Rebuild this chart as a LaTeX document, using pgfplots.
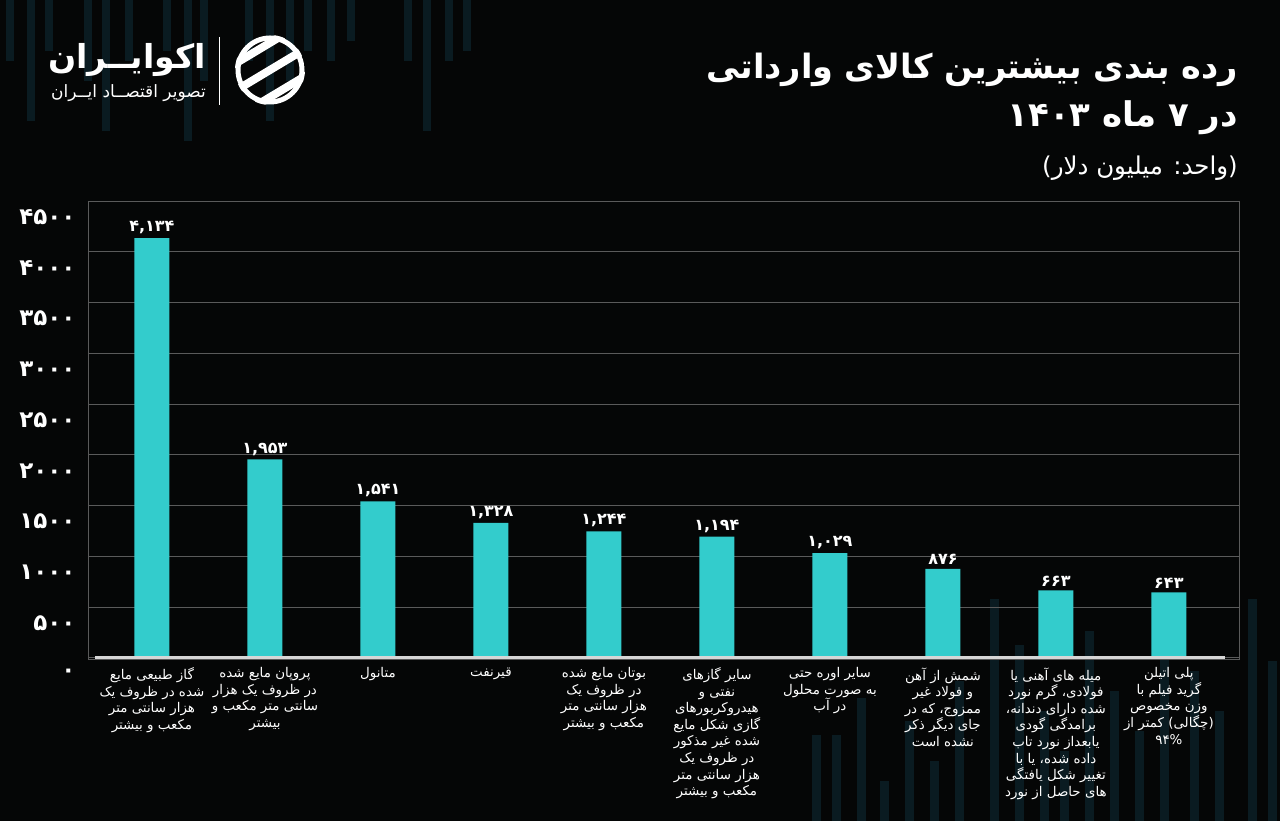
\documentclass[border=0pt]{standalone}
\usepackage{fontspec}
\usepackage{pgfplots}
\usepackage{pgfplotstable}
\pgfplotsset{compat=1.18}
\TeXXeTstate=1
\setmainfont{DejaVu Sans}[Script=Arabic]
\newcommand{\R}[1]{\beginR #1\endR}
\newcommand{\xlfont}{\fontsize{13.4}{16.6}\selectfont\setlength{\lineskiplimit}{-20pt}\setlength{\lineskip}{0pt}}
\definecolor{bg}{HTML}{050606}
\definecolor{barc}{HTML}{33CCCC}
\definecolor{gridc}{HTML}{5A5A5A}
\definecolor{deco}{HTML}{0A1B21}
\definecolor{basec}{HTML}{D6D6D6}

\pgfplotstableread{
x y lab
0 4134 ۴,۱۳۴
1 1953 ۱,۹۵۳
2 1541 ۱,۵۴۱
3 1328 ۱,۳۲۸
4 1244 ۱,۲۴۴
5 1194 ۱,۱۹۴
6 1029 ۱,۰۲۹
7 876 ۸۷۶
8 663 ۶۶۳
9 643 ۶۴۳
}\datatable

\begin{document}
\begin{tikzpicture}[x=1pt,y=1pt]
\fill[bg] (0,0) rectangle (1280,821);
% faint decorative background stripes
\foreach \xa/\ya in {6/760, 27/700, 45/770, 84/740, 102/690, 125/760, 163/770, 184/680, 200/740, 245/760, 266/700, 286/740, 304/770, 327/760, 347/780, 404/760, 423/690, 445/760, 463/770}{
  \fill[deco] (\xa,\ya) rectangle ({\xa+8},821);
}
\foreach \xa/\ya in {812/86, 832/86, 857/123, 880/40, 905/100, 930/60, 955/140, 990/222, 1015/176, 1040/110, 1060/70, 1085/190, 1110/130, 1135/90, 1160/200, 1190/150, 1215/110, 1248/222, 1268/160}{
  \fill[deco] (\xa,0) rectangle ({\xa+9},\ya);
}
\begin{axis}[
  at={(88pt,162pt)}, anchor=south west,
  scale only axis, width=1151pt, height=458pt,
  xmin=-0.566, xmax=9.62, ymin=-13, ymax=4500,
  axis line style={gridc, line width=0.8pt},
  ymajorgrids, grid style={gridc, line width=0.8pt},
  major tick length=0pt,
  ytick={0,500,...,4500},
  yticklabels={۰,۵۰۰,۱۰۰۰,۱۵۰۰,۲۰۰۰,۲۵۰۰,۳۰۰۰,۳۵۰۰,۴۰۰۰,۴۵۰۰},
  yticklabel style={font=\bfseries\fontsize{23}{26}\selectfont, text=white, yshift=-16pt, xshift=-9pt},
  xtick={0,...,9},
  xticklabels={
    {\R{گاز طبیعی مایع}\\\R{شده در ظروف یک}\\\R{هزار سانتی متر}\\\R{مکعب و بیشتر}},
    {\R{پروپان مایع شده}\\\R{در ظروف یک هزار}\\\R{سانتی متر مکعب و}\\\R{بیشتر}},
    {\R{متانول}},
    {\R{قیرنفت}},
    {\R{بوتان مایع شده}\\\R{در ظروف یک}\\\R{هزار سانتی متر}\\\R{مکعب و بیشتر}},
    {\R{سایر گازهای}\\\R{نفتی و}\\\R{هیدروکربورهای}\\\R{گازی شکل مایع}\\\R{شده غیر مذکور}\\\R{در ظروف یک}\\\R{هزار سانتی متر}\\\R{مکعب و بیشتر}},
    {\R{سایر اوره حتی}\\\R{به صورت محلول}\\\R{در آب}},
    {\R{شمش از آهن}\\\R{و فولاد غیر}\\\R{ممزوج، که در}\\\R{جای دیگر ذکر}\\\R{نشده است}},
    {\R{میله های آهنی یا}\\\R{فولادی، گرم نورد}\\\R{شده دارای دندانه،}\\\R{برامدگی گودی}\\\R{یابعداز نورد تاب}\\\R{داده شده، یا با}\\\R{تغییر شکل یافتگی}\\\R{های حاصل از نورد}},
    {\R{پلی اتیلن}\\\R{گرید فیلم با}\\\R{وزن مخصوص}\\\R{(چگالی) کمتر از}\\\R{۹۴\%}}
  },
  xticklabel style={font=\xlfont, text=white, align=center, anchor=north, yshift=-5pt},
]
\addplot[ybar, bar width=35pt, fill=barc, draw=none,
  nodes near coords, point meta=explicit symbolic,
  nodes near coords style={font=\bfseries\fontsize{16}{18}\selectfont, text=white, anchor=south, inner sep=4pt}]
  table[x=x,y=y,meta=lab]{\datatable};
\addplot[basec, line width=3.2pt, forget plot] coordinates {(-0.5,0) (9.5,0)};
\end{axis}
% title
\node[anchor=east, text=white, font=\bfseries\fontsize{33.5}{38}\selectfont, inner sep=0pt] at (1238,751) {\R{رده بندی بیشترین کالای وارداتی}};
\node[anchor=east, text=white, font=\bfseries\fontsize{34}{38}\selectfont, inner sep=0pt] at (1238,703) {\R{در ۷ ماه ۱۴۰۳}};
\node[anchor=east, text=white, font=\fontsize{24.5}{28}\selectfont, inner sep=0pt] at (1238,653) {\R{(واحد: میلیون دلار)}};
% logo
\node[anchor=east, text=white, font=\bfseries\fontsize{33}{38}\selectfont, inner sep=0pt] at (206,761) {\R{اکوایــران}};
\node[anchor=east, text=white, font=\fontsize{17}{20}\selectfont, inner sep=0pt] at (206,728) {\R{تصویر اقتصــاد ایــران}};
\draw[white, line width=1pt] (219,784) -- (219,716);
\begin{scope}
  \clip (270,751) circle (35);
  \draw[white, line width=5pt] (270,751) circle (32);
  \foreach \o in {-17,0,17}{
    \draw[white, line width=8pt] ({235+\o},{730-\o}) -- ({305+\o},{772-\o});
  }
\end{scope}
\pgfresetboundingbox
\path[use as bounding box] (0,0) rectangle (1280,821);
\end{tikzpicture}
\end{document}
